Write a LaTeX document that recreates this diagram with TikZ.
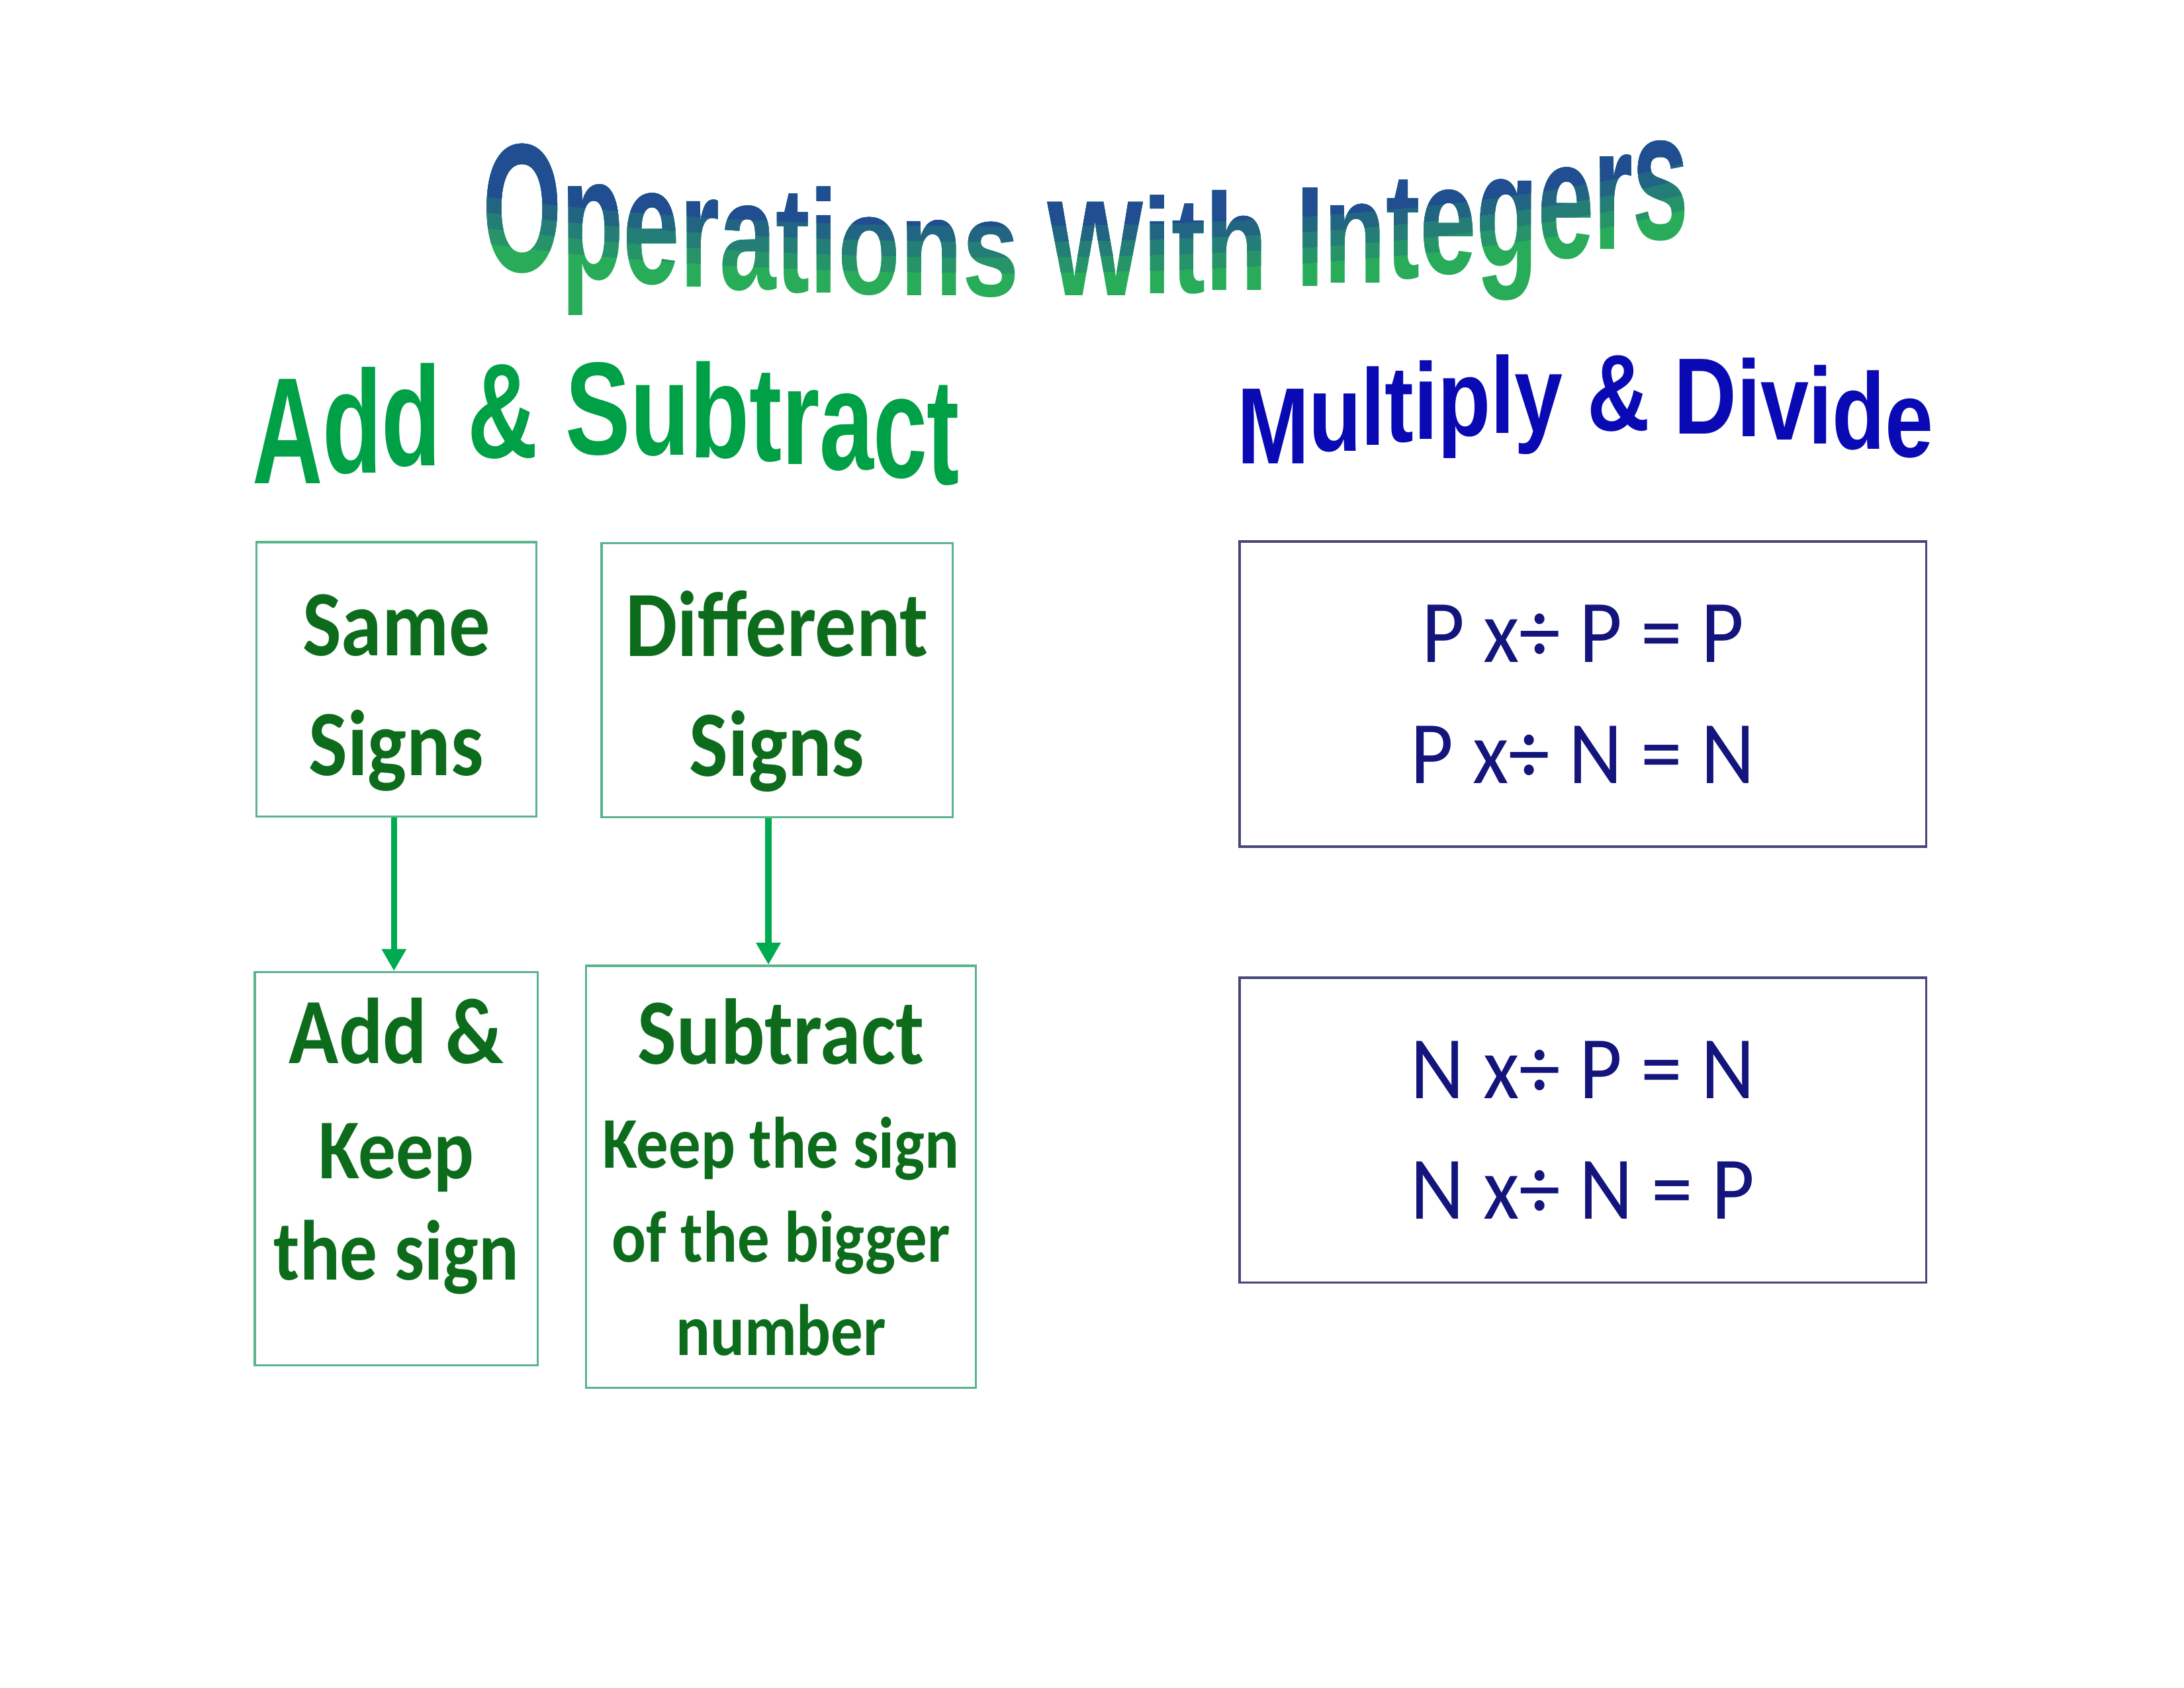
\documentclass[tikz,border=0pt]{standalone}
\usepackage{fontspec}
\usepackage{tikz}
\usetikzlibrary{arrows.meta,positioning,decorations.text}
\newfontfamily\signfont{Carlito}[FakeStretch=0.88]
\newfontfamily\rulefont{Carlito}[FakeStretch=0.93]
\newfontfamily\titlefont{Liberation Sans}[FakeStretch=0.75]
\newfontfamily\addfont{Liberation Sans}[FakeStretch=0.74]
\newfontfamily\mulfont{Liberation Sans}[FakeStretch=0.80]
\tikzset{
  signbox/.style={draw=boxedge, line width=0.8pt, align=center,
                  text=signgreen, inner sep=0pt,
                  font=\signfont\bfseries\fontsize{34}{43.6}\selectfont},
  rulebox/.style={draw=ruleedge, line width=0.9pt, align=center,
                  text=rulenavy, inner sep=0pt,
                  minimum width=8.785cm, minimum height=3.902cm,
                  font=\rulefont\fontsize{32.5}{43.9}\selectfont},
  darr/.style   ={-{Triangle[length=8pt,width=8.5pt]}, line width=2.2pt,
                  draw=arrowgreen},
  wordart/.style n args={4}{decoration={text effects along path,
                  text={#1}, text align=center,
                  text effects/.cd, character count=\ci, character total=\cn,
                  characters={anchor=base, inner sep=0pt, font=#2, text=#3,
                              yscale={1+#4*((2*\ci-\cn-1)/(\cn-1))^2}}},
                  decorate},
}
\definecolor{signgreen} {RGB}{12,108,28}
\definecolor{boxedge}   {RGB}{90,180,140}
\definecolor{arrowgreen}{RGB}{0,170,80}
\definecolor{rulenavy}  {RGB}{20,20,125}
\definecolor{ruleedge}  {RGB}{70,70,120}
\definecolor{addgreen}  {RGB}{0,160,70}
\definecolor{mulblue}   {RGB}{10,10,180}
\definecolor{titleblue} {RGB}{32,78,145}
\definecolor{titlegreen}{RGB}{40,172,90}
\newcommand\titlestyle{\titlefont\bfseries\fontsize{49.4}{50}\selectfont}

\begin{document}
\begin{tikzpicture}[node distance=1.9cm]
  \useasboundingbox (0,0) rectangle (27.94,21.59);
  % word art headings
  \coordinate (t0) at (6.06,18.20);
  \coordinate (t1) at (9.98,17.63);
  \coordinate (t2) at (17.82,17.58);
  \coordinate (t3) at (21.70,18.65);
  \path[wordart={Operations With Integers}{\titlestyle}{titlegreen}{0.35}]
    (t0) .. controls (t1) and (t2) .. (t3);
  \foreach \dy/\mix in {0.30cm/25, 0.50cm/50, 0.70cm/75, 0.90cm/100}{
    \begin{scope}
      \clip (5,21) -- (5,18.2) -- ([yshift=\dy]t0) .. controls ([yshift=\dy]t1)
        and ([yshift=\dy]t2) .. ([yshift=\dy]t3) -- (23,18.65) -- (23,21) -- cycle;
      \path[wordart={Operations With Integers}{\titlestyle}{titleblue!\mix!titlegreen}{0.35}]
        (t0) .. controls (t1) and (t2) .. (t3);
    \end{scope}
  }
  \coordinate (a0) at (3.21,15.32);
  \coordinate (a1) at (6.24,15.92);
  \coordinate (a2) at (9.27,15.92);
  \coordinate (a3) at (12.30,15.35);
  \path[wordart={Add {\&} Subtract}{\addfont\bfseries\fontsize{48}{48}\selectfont}{addgreen}{0.15}]
    (a0) .. controls (a1) and (a2) .. (a3);
  \coordinate (m0) at (15.77,15.53);
  \coordinate (m1) at (18.35,16.24);
  \coordinate (m2) at (21.92,16.24);
  \coordinate (m3) at (24.80,15.67);
  \path[wordart={Multiply {\&} Divide}{\mulfont\bfseries\fontsize{39.5}{40}\selectfont}{mulblue}{0}]
    (m0) .. controls (m1) and (m2) .. (m3);
  % add & subtract
  \node[signbox, minimum width=3.58cm, minimum height=3.51cm] (same) at (5.07,12.90)
    {\rule{0pt}{32pt}Same\\Signs};
  \node[signbox, minimum width=4.49cm, minimum height=3.51cm] (diff) at (9.94,12.89)
    {\rule{0pt}{32pt}Different\\Signs};
  \node[signbox, minimum width=3.62cm, minimum height=5.03cm, below=1.96cm of same] (keep)
    {Add \&\\[-1.7pt] {\fontsize{31}{31}\selectfont Keep}\\[-6.7pt]
     {\fontsize{31}{31}\selectfont the sign}\rule[-21.7pt]{0pt}{0pt}};
  \node[signbox, minimum width=4.99cm, minimum height=5.40cm, below=1.87cm of diff, xshift=0.05cm] (sub)
    {Subtract\\[-5.7pt] {\fontsize{26.5}{30}\selectfont Keep the sign}\\[-9.3pt]
     {\fontsize{26.5}{30}\selectfont of the bigger}\\[-9.8pt] {\fontsize{26.5}{30}\selectfont number}};
  \draw[darr] ([xshift=-0.03cm]same.south) -- ([xshift=-0.03cm]same.south |- keep.north);
  \draw[darr] ([xshift=-0.11cm]diff.south) -- ([xshift=-0.11cm]diff.south |- sub.north);
  % multiply & divide
  \node[rulebox] (pp) at (20.25,12.71) {P x÷ P = P\\P x÷ N = N};
  \node[rulebox, below=1.64cm of pp] (np) {N x÷ P = N\\N x÷ N = P};
\end{tikzpicture}
\end{document}
